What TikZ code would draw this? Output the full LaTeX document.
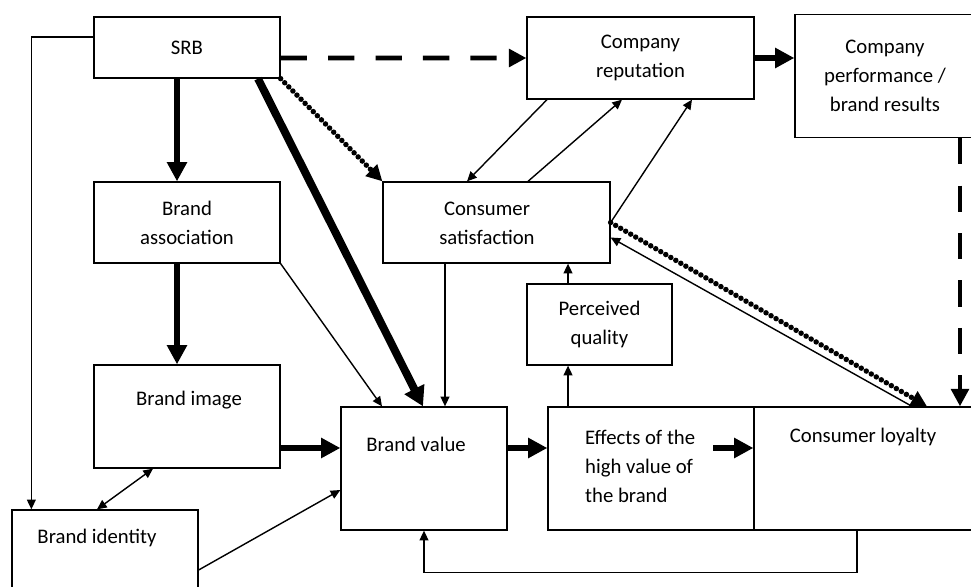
\documentclass[tikz,border=0pt]{standalone}
\usepackage{fontspec}
\setmainfont{Carlito}
\usetikzlibrary{arrows.meta}

\begin{document}
\begin{tikzpicture}[x=0.02cm, y=-0.02cm,
  every node/.style={font=\fontsize{11.8}{16.5}\selectfont, align=center},
  box/.style={draw, line width=0.75pt, inner sep=0pt},
  link/.style={line width=0.8pt, -{Triangle[length=5.5pt, width=5pt]}},
  bilink/.style={line width=0.8pt, {Triangle[length=5.5pt, width=5pt]}-{Triangle[length=5.5pt, width=5pt]}},
  heavy/.style={line width=3.2pt, -{Triangle[length=11pt, width=11pt]}},
  heavier/.style={line width=4.5pt, -{Triangle[length=11pt, width=12pt]}},
  dashlink/.style={line width=2.8pt, dash pattern=on 15pt off 12pt, -{Triangle[length=10pt, width=10pt]}},
  dotlink/.style={line width=3.1pt, line cap=round, dash pattern=on 0pt off 3.3pt, -{Triangle[length=9pt, width=9pt]}}]
\useasboundingbox (0,0) rectangle (971,587);
\clip (0,0) rectangle (971,587);

% boxes
\node[box, minimum width=3.72cm, minimum height=1.22cm] (srb) at (187, 47.5) {SRB};
\node[box, minimum width=3.72cm, minimum height=1.62cm] (assoc) at (187, 222.5) {Brand\\association};
\node[box, minimum width=3.72cm, minimum height=2.06cm] (image) at (187, 416.5) {};
\node[box, minimum width=3.72cm, minimum height=1.8cm] (identity) at (105, 555) {};
\node[box, minimum width=3.32cm, minimum height=2.46cm] (value) at (424, 468.5) {};
\node[box, minimum width=4.12cm, minimum height=2.46cm] (effects) at (651, 468.5) {};
\node[box, minimum width=4.42cm, minimum height=2.46cm] (loyalty) at (864.5, 468.5) {};
\node[box, minimum width=2.9cm, minimum height=1.62cm] (quality) at (599.5, 324.5) {Perceived\\quality};
\node[box, minimum width=4.54cm, minimum height=1.62cm] (satisf) at (496.5, 222.5) {};
\node[box, minimum width=4.54cm, minimum height=1.64cm] (reput) at (640.5, 58) {Company\\reputation};
\node[box, minimum width=3.6cm, minimum height=2.46cm] (perf) at (885, 76) {Company\\performance /\\brand results};

% texts set off-centre
\node (imagelbl) at (189, 400) {Brand image};
\node (identitylbl) at (97, 538) {Brand identity};
\node (valuelbl) at (416, 444) {Brand value};
\node (loyaltylbl) at (863, 437) {Consumer loyalty};
\node (satisflbl) at (487, 223) {Consumer\\satisfaction};
\node[align=left, anchor=west] (effectslbl) at (579, 466) {Effects of the\\high value of\\the brand};
\coordinate (effin) at (713, 448);

% connectors
\draw[link] ([yshift=0.21cm]srb.west) -| ([xshift=0.4cm]identity.north west);
\draw[heavy] ([xshift=-0.2cm]srb.south) -- ([xshift=-0.2cm]assoc.north);
\draw[heavy] ([xshift=-0.2cm]assoc.south) -- ([xshift=-0.2cm]image.north);
\draw[heavier] ([xshift=1.42cm]srb.south) -- ([xshift=-0.02cm]value.north);
\draw[dotlink] (srb.south east) -- (satisf.north west);
\draw[dashlink] ([yshift=-0.21cm]srb.east) -- (reput.west);
\draw[heavy] (reput.east) -- (reput.east -| perf.west);
\draw[link] (assoc.south east) -- ([xshift=-0.84cm]value.north);
\draw[link] ([xshift=0.42cm]value.north |- satisf.south) -- ([xshift=0.42cm]value.north);
\draw[heavy] ([yshift=-0.63cm]image.east) -- ([yshift=-0.63cm]image.east -| value.west);
\draw[bilink] ([xshift=-0.68cm]image.south) -- ([xshift=-0.16cm]identity.north);
\draw[link] ([yshift=-0.3cm]identity.east) -- ([yshift=-0.43cm]value.west);
\draw[heavy] ([yshift=0.41cm]value.east) -- ([yshift=0.41cm]effects.west);
\draw[heavy] (effin) -- (effin -| loyalty.west);
\draw[link] ([xshift=-1.66cm]effects.north) -- ([xshift=-1.66cm]effects.north |- quality.south);
\draw[link] ([xshift=-0.63cm]quality.north) -- ([xshift=-0.63cm]quality.north |- satisf.south);
\draw[link] ([xshift=-0.15cm]loyalty.south) -- ++(0,42) -| (value.south);
\draw[link] ([xshift=-1.87cm]reput.south) -- ([xshift=-0.59cm]satisf.north);
\draw[link] ([xshift=0.63cm]satisf.north) -- ([xshift=-0.37cm]reput.south);
\draw[link] (satisf.east) -- ([xshift=1.03cm]reput.south);
\draw[dotlink] (satisf.east) -- ([xshift=1.25cm]loyalty.north);
\draw[link] ([xshift=0.95cm]loyalty.north) -- ([yshift=-0.3cm]satisf.east);
\draw[dashlink] ([xshift=1.5cm]perf.south) -- ([xshift=1.5cm]perf.south |- loyalty.north);

\end{tikzpicture}
\end{document}
